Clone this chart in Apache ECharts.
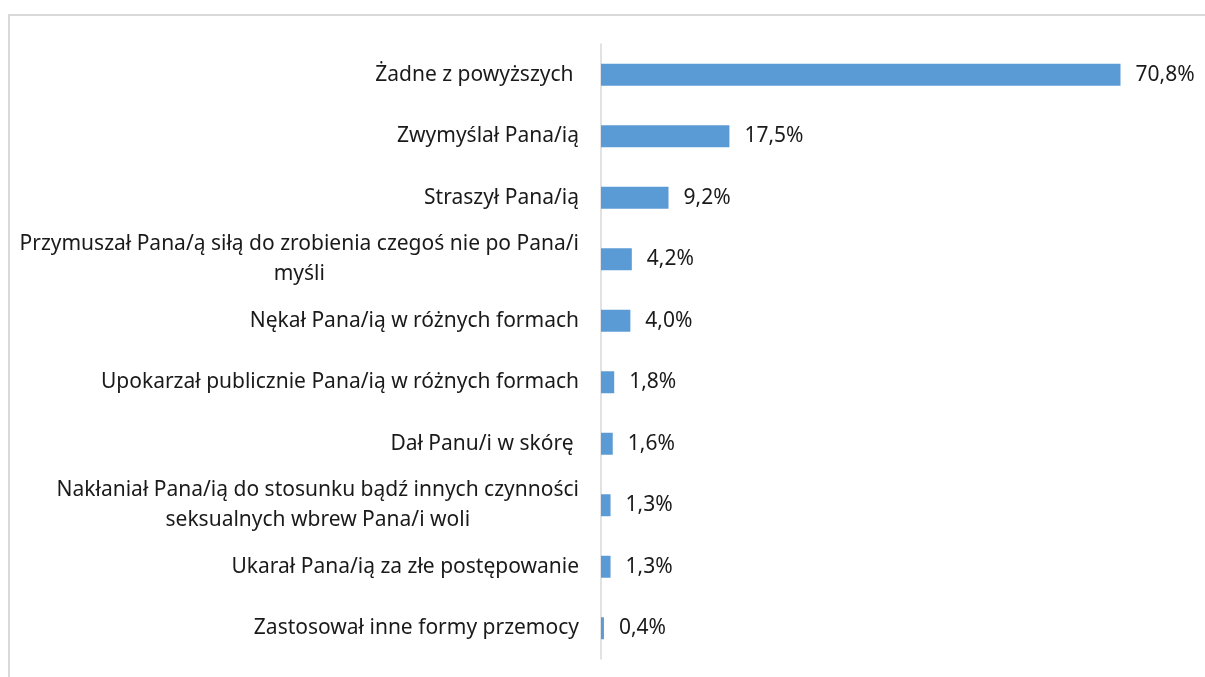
<!DOCTYPE html>
<html>
<head>
<meta charset="utf-8">
<script src="https://cdn.jsdelivr.net/npm/echarts@6/dist/echarts.min.js"></script>
<style>
  html, body { margin: 0; padding: 0; background: #fff; }
  #frame {
    position: absolute; left: 8px; top: 14px; width: 1210px; height: 680px;
    border: 2px solid #d9d9d9; box-sizing: border-box;
  }
  #main { position: absolute; left: 0; top: 0; width: 1205px; height: 677px; }
</style>
</head>
<body>
<div id="frame"></div>
<div id="main"></div>
<script>
// kategorie (od góry do dołu) i wartości w %
var categories = [
    "Żadne z powyższych ",
    "Zwymyślał Pana/ią",
    "Straszył Pana/ią",
    "Przymuszał Pana/ą siłą do zrobienia czegoś nie po Pana/i\nmyśli",
    "Nękał Pana/ią w różnych formach",
    "Upokarzał publicznie Pana/ią w różnych formach",
    "Dał Panu/i w skórę ",
    "Nakłaniał Pana/ią do stosunku bądź innych czynności\nseksualnych wbrew Pana/i woli",
    "Ukarał Pana/ią za złe postępowanie",
    "Zastosował inne formy przemocy"
];
var values = [70.8, 17.5, 9.2, 4.2, 4.0, 1.8, 1.6, 1.3, 1.3, 0.4];

var FONT = "Noto Sans";
var FS = 21;

var chart = echarts.init(document.getElementById("main"), null, { renderer: "canvas" });

chart.setOption({
    animation: false,
    grid: { left: 601, top: 44, width: 587, height: 615, containLabel: false },
    xAxis: {
        type: "value", min: 0, max: 80,
        show: false
    },
    yAxis: {
        type: "category",
        inverse: true,
        data: categories,
        axisLine: { show: true, lineStyle: { color: "#d9d9d9", width: 1.5 } },
        axisTick: { show: false },
        splitLine: { show: false },
        axisLabel: {
            margin: 22,
            color: "#1a1a1a",
            fontFamily: FONT,
            fontSize: FS,
            formatter: function (v) {
                return v.split("\n").map(function (l) { return "{c|" + l + "}"; }).join("\n");
            },
            rich: {
                c: { align: "center", fontFamily: FONT, fontSize: FS, color: "#1a1a1a", lineHeight: 30 }
            }
        }
    },
    series: [{
        type: "bar",
        data: values,
        barWidth: 22,
        itemStyle: { color: "#5b9bd5" },
        label: {
            show: true,
            position: "right",
            distance: 15,
            color: "#1a1a1a",
            fontFamily: FONT,
            fontSize: FS,
            formatter: function (p) { return p.value.toFixed(1).replace(".", ",") + "%"; }
        }
    }]
});
</script>
</body>
</html>
